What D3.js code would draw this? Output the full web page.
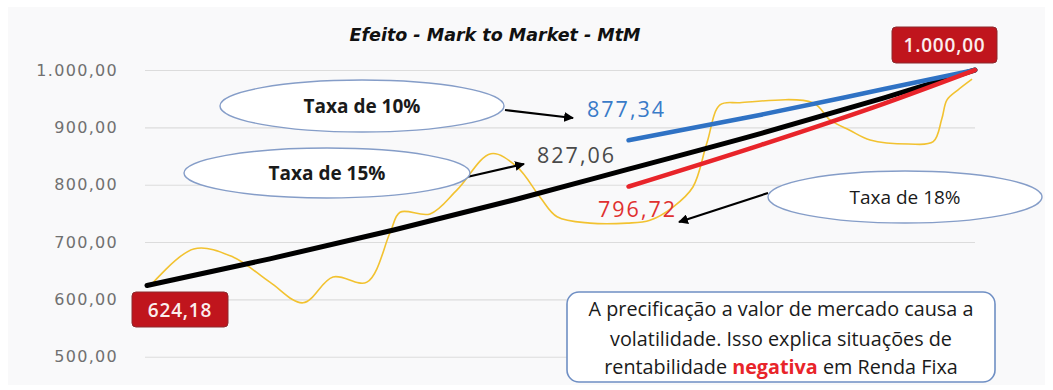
<!DOCTYPE html>
<html lang="pt-BR">
<head>
<meta charset="utf-8">
<script src="https://cdn.jsdelivr.net/npm/d3@7"></script>
<style>
  html, body { margin: 0; padding: 0; background: #ffffff; }
  svg { display: block; }
</style>
</head>
<body>
<svg id="chart" width="1053" height="390"></svg>
<script>
// Prazo em anos (eixo horizontal, não rotulado)
const prazoAnos = [0, 0.5, 1, 1.5, 1.96, 2.5, 3, 3.37];
// Preço do título descontado a 15% a.a.
const taxa15 = [624.18, 670.6, 720.5, 774.1, 827.06, 889.5, 951.5, 1000.00];

// Trecho final repricificado a 10% e a 18%
const prazoFinal = [1.96, 2.5, 3, 3.37];
const taxa10 = [877.34, 922.0, 966.8, 1000.00];
const taxa18 = [796.72, 869.5, 941.5, 1000.00];

// Marcação a mercado (oscilação ilustrativa)
const prazoMtM = [0.01, 0.19, 0.35, 0.50, 0.635, 0.757, 0.895, 0.99, 1.03, 1.152, 1.262, 1.40, 1.506, 1.60, 1.669, 1.803, 1.954, 2.047, 2.141, 2.222, 2.279, 2.332, 2.413, 2.71, 2.78, 2.86, 2.943, 3.10, 3.20, 3.235, 3.256, 3.30, 3.358];
const valorMtM = [622, 688, 674, 630, 594, 639, 630, 717, 752, 749, 791, 854, 831, 778, 744, 733, 733, 738, 761, 796, 873, 939, 943, 943, 913, 895, 878, 871, 875, 915, 948, 965, 984];

const yTicks = [500, 600, 700, 800, 900, 1000];

const titulo = "Efeito - Mark to Market - MtM";

const br = d3.formatLocale({ decimal: ",", thousands: ".", grouping: [3], currency: ["R$", ""] });
const fmt = br.format(",.2f");

const svg = d3.select("#chart");

// Painel de fundo
svg.append("rect")
  .attr("x", 8).attr("y", 7).attr("width", 1037).attr("height", 378)
  .attr("fill", "#f9f9fa");

const x = d3.scaleLinear().domain([0, 3.37]).range([147, 975]);
const y = d3.scaleLinear().domain([500, 1000]).range([356.7, 70]);

// Eixo vertical com linhas de grade
const yAxis = svg.append("g")
  .attr("transform", "translate(145,0)")
  .call(d3.axisLeft(y).tickValues(yTicks).tickFormat(fmt).tickSize(-830).tickPadding(27));
yAxis.select(".domain").remove();
yAxis.selectAll(".tick line").attr("stroke", "#dcdcdc").attr("stroke-width", 1.1);
yAxis.selectAll(".tick text")
  .attr("fill", "#707070")
  .attr("font-family", "DejaVu Sans, sans-serif")
  .attr("font-size", 16)
  .attr("letter-spacing", 1.3);

// Título
svg.append("text")
  .attr("x", 495).attr("y", 41)
  .attr("text-anchor", "middle")
  .attr("font-family", "DejaVu Sans, sans-serif")
  .attr("font-weight", "bold")
  .attr("font-style", "italic")
  .attr("font-size", 17.5)
  .attr("fill", "#111")
  .text(titulo);

// Curva de marcação a mercado
const mtm = prazoMtM.map((t, i) => ({ t, v: valorMtM[i] }));
svg.append("path")
  .datum(mtm)
  .attr("fill", "none")
  .attr("stroke", "#f2c230")
  .attr("stroke-width", 1.6)
  .attr("d", d3.line().x(d => x(d.t)).y(d => y(d.v)).curve(d3.curveCatmullRom.alpha(0.5)));

const line = d3.line().x(d => x(d.t)).y(d => y(d.v)).curve(d3.curveMonotoneX);

const serie15 = prazoAnos.map((t, i) => ({ t, v: taxa15[i] }));
const serie10 = prazoFinal.map((t, i) => ({ t, v: taxa10[i] }));
const serie18 = prazoFinal.map((t, i) => ({ t, v: taxa18[i] }));

svg.append("path").datum(serie15)
  .attr("fill", "none").attr("stroke", "#000").attr("stroke-width", 5)
  .attr("stroke-linecap", "round").attr("d", line);
svg.append("path").datum(serie10)
  .attr("fill", "none").attr("stroke", "#2f72c4").attr("stroke-width", 4.5)
  .attr("stroke-linecap", "round").attr("d", line);
svg.append("path").datum(serie18)
  .attr("fill", "none").attr("stroke", "#e8242a").attr("stroke-width", 4.5)
  .attr("stroke-linecap", "round").attr("d", line);

// Setas
const defs = svg.append("defs");
defs.append("marker")
  .attr("id", "seta").attr("viewBox", "0 0 10 10")
  .attr("refX", 9).attr("refY", 5)
  .attr("markerWidth", 4.5).attr("markerHeight", 4.5)
  .attr("orient", "auto")
  .append("path").attr("d", "M0,0 L10,5 L0,10 Z").attr("fill", "#000");

function seta(x1, y1, x2, y2) {
  svg.append("line")
    .attr("x1", x1).attr("y1", y1).attr("x2", x2).attr("y2", y2)
    .attr("stroke", "#000").attr("stroke-width", 2.2)
    .attr("marker-end", "url(#seta)");
}

// Elipses de chamada
function elipse(cx, cy, rx, ry, texto, peso) {
  svg.append("ellipse")
    .attr("cx", cx).attr("cy", cy).attr("rx", rx).attr("ry", ry)
    .attr("fill", "#ffffff").attr("stroke", "#859dc8").attr("stroke-width", 1.4);
  svg.append("text")
    .attr("x", cx).attr("y", cy + 7)
    .attr("text-anchor", "middle")
    .attr("font-family", "Open Sans, sans-serif")
    .attr("font-weight", peso)
    .attr("font-size", 19)
    .attr("fill", "#1a1a1a")
    .text(texto);
}

seta(505, 110, 573, 118);
seta(467, 177, 524, 164);
seta(768, 193, 679, 222);

elipse(362, 106, 142, 26, "Taxa de 10%", 700);
elipse(327, 173, 143, 25, "Taxa de 15%", 700);
elipse(905, 197, 137, 26, "Taxa de 18%", 400);

// Valores no início do trecho final
function valor(v, cor, xText, yText) {
  svg.append("text")
    .attr("x", xText).attr("y", yText)
    .attr("font-family", "Open Sans, sans-serif")
    .attr("font-size", 21.5)
    .attr("letter-spacing", 2)
    .attr("fill", cor)
    .text(fmt(v));
}
valor(serie10[0].v, "#3a7bc8", 587, 117);
valor(serie15[4].v, "#4a4a4a", 537, 163);
valor(serie18[0].v, "#e0302f", 598, 217);

// Caixas vermelhas com os valores extremos
function caixa(bx, by, bw, bh, v) {
  svg.append("rect")
    .attr("x", bx).attr("y", by).attr("width", bw).attr("height", bh)
    .attr("rx", 4).attr("fill", "#c0151d").attr("stroke", "#8d2a2e").attr("stroke-width", 1);
  svg.append("text")
    .attr("x", bx + bw / 2).attr("y", by + bh / 2 + 7)
    .attr("text-anchor", "middle")
    .attr("font-family", "Open Sans, sans-serif")
    .attr("font-weight", 600)
    .attr("font-size", 19)
    .attr("letter-spacing", 0.8)
    .attr("fill", "#fbeeee")
    .text(fmt(v));
}
caixa(x(prazoAnos[prazoAnos.length - 1]) - 83, 27, 105, 36, taxa15[taxa15.length - 1]);
caixa(x(prazoAnos[0]) - 15, 292, 96, 35, taxa15[0]);

// Quadro explicativo
svg.append("rect")
  .attr("x", 567).attr("y", 292).attr("width", 428).attr("height", 90)
  .attr("rx", 12).attr("fill", "#ffffff")
  .attr("stroke", "#6f8fc4").attr("stroke-width", 1.6);

const nota = svg.append("text")
  .attr("text-anchor", "middle")
  .attr("font-family", "Open Sans, sans-serif")
  .attr("font-size", 19.8)
  .attr("fill", "#1a1a1a");
nota.append("tspan").attr("x", 781).attr("y", 316).text("A precificação a valor de mercado causa a");
nota.append("tspan").attr("x", 781).attr("y", 346).text("volatilidade. Isso explica situações de");
const l3 = nota.append("tspan").attr("x", 781).attr("y", 374);
l3.append("tspan").text("rentabilidade ");
l3.append("tspan").attr("fill", "#e8242a").attr("font-weight", 700).text("negativa");
l3.append("tspan").text(" em Renda Fixa");
</script>
</body>
</html>
